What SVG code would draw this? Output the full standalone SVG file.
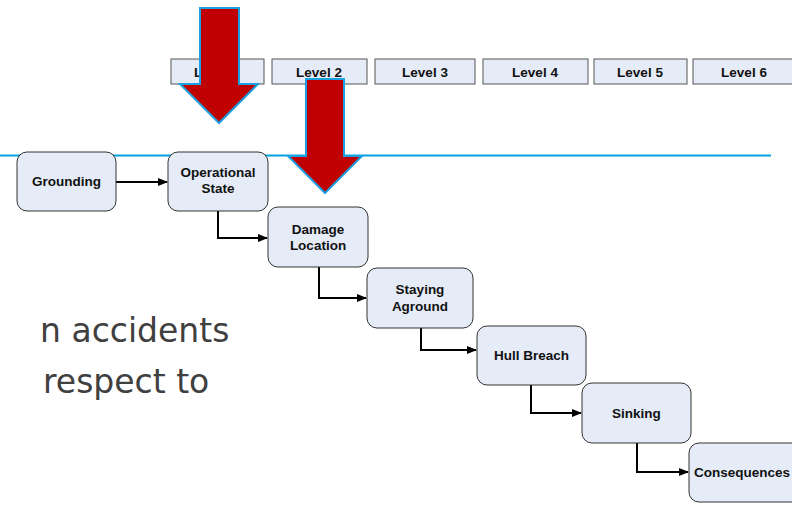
<svg xmlns="http://www.w3.org/2000/svg" width="792" height="505" viewBox="0 0 792 505">
<defs>
<marker id="ah" markerWidth="10" markerHeight="8" refX="9" refY="4" orient="auto" markerUnits="userSpaceOnUse">
<path d="M0,0 L10,4 L0,8 Z" fill="#000"/>
</marker>
<style>
.lvl{fill:#E6ECF7;stroke:#555;stroke-width:1}
.node{fill:#E6ECF7;stroke:#333;stroke-width:1}
.t{font-family:"Liberation Sans",Arial,sans-serif;font-weight:bold;font-size:13.5px;fill:#111;text-anchor:middle}
.conn{fill:none;stroke:#000;stroke-width:2;marker-end:url(#ah)}
.big{font-family:"DejaVu Sans",Verdana,sans-serif;font-size:33px;fill:#404040}
.red{fill:#C00000;stroke:#1BA1E2;stroke-width:2}
</style>
</defs>
<rect width="792" height="505" fill="#fff"/>
<text class="big" x="40" y="342">n accidents</text>
<text class="big" x="43" y="393">respect to</text>
<g id="levels">
<g id="level1"><rect class="lvl" x="171" y="59" width="93" height="25"/><text class="t" x="217" y="77">Level 1</text></g>
<g id="level2"><rect class="lvl" x="272" y="59" width="95" height="25"/><text class="t" x="319" y="77">Level 2</text></g>
<g id="level3"><rect class="lvl" x="375" y="59" width="100" height="25"/><text class="t" x="425" y="77">Level 3</text></g>
<g id="level4"><rect class="lvl" x="483" y="59" width="105" height="25"/><text class="t" x="535" y="77">Level 4</text></g>
<g id="level5"><rect class="lvl" x="594" y="59" width="93" height="25"/><text class="t" x="640" y="77">Level 5</text></g>
<g id="level6"><rect class="lvl" x="693" y="59" width="100" height="25"/><text class="t" x="744" y="77">Level 6</text></g>
</g>
<line x1="0" y1="155.5" x2="771" y2="155.5" stroke="#00A3E0" stroke-width="2"/>
<g id="arrow1"><path class="red" d="M200,8 L239,8 L239,84 L258,84 L219,123 L180,84 L200,84 Z"/></g>
<g id="arrow2"><path class="red" d="M306,79 L344,79 L344,156 L362,156 L325,193 L288,156 L306,156 Z"/></g>
<g id="connectors">
<path class="conn" d="M116,182 L167,182"/>
<path class="conn" d="M218,211 L218,238 L267,238"/>
<path class="conn" d="M319,267 L319,298 L366,298"/>
<path class="conn" d="M421,328 L421,350 L476,350"/>
<path class="conn" d="M531,385 L531,413 L581,413"/>
<path class="conn" d="M637,443 L637,472 L688,472"/>
</g>
<g id="grounding"><rect class="node" x="17" y="152" width="99" height="59" rx="10"/><text class="t" x="66.5" y="186">Grounding</text></g>
<g id="operational"><rect class="node" x="168" y="152" width="100" height="59" rx="10"/><text class="t" x="218" y="177">Operational</text><text class="t" x="218" y="193">State</text></g>
<g id="damage"><rect class="node" x="268" y="207" width="100" height="60" rx="10"/><text class="t" x="318" y="234">Damage</text><text class="t" x="318" y="250">Location</text></g>
<g id="staying"><rect class="node" x="367" y="268" width="106" height="60" rx="10"/><text class="t" x="420" y="294">Staying</text><text class="t" x="420" y="311">Aground</text></g>
<g id="hull"><rect class="node" x="477" y="326" width="109" height="59" rx="10"/><text class="t" x="531.5" y="360">Hull Breach</text></g>
<g id="sinking"><rect class="node" x="582" y="383" width="109" height="60" rx="10"/><text class="t" x="636.5" y="418">Sinking</text></g>
<g id="consequences"><rect class="node" x="689" y="443" width="115" height="59" rx="10"/><text class="t" x="742" y="477">Consequences</text></g>
</svg>
